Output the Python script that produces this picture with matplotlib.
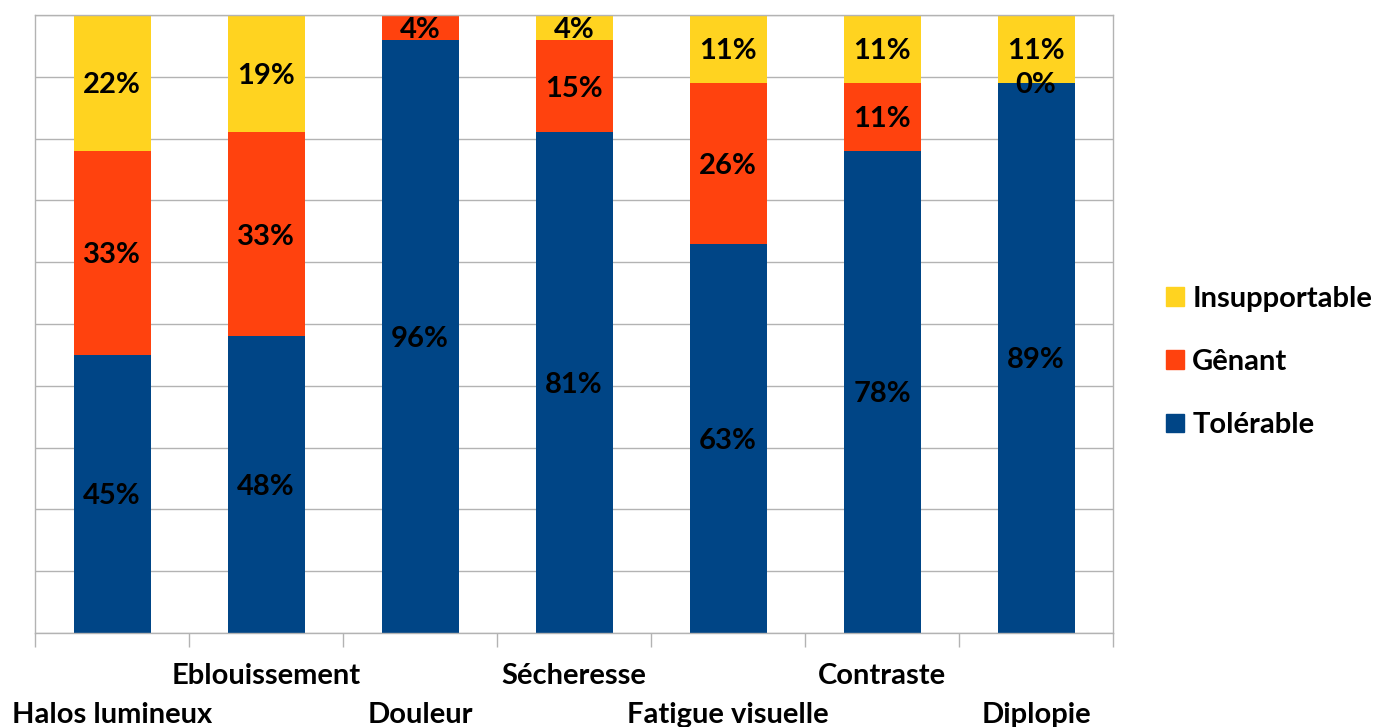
import numpy as np
import matplotlib
matplotlib.use("Agg")
from matplotlib import pyplot as plt
from matplotlib.patches import Patch

plt.rcParams['font.family'] = ['Lato', 'DejaVu Sans']
plt.rcParams['font.weight'] = 'bold'

categories = ['Halos lumineux', 'Eblouissement', 'Douleur', 'Sécheresse',
              'Fatigue visuelle', 'Contraste', 'Diplopie']
tolerable = [45, 48, 96, 81, 63, 78, 89]
genant = [33, 33, 4, 15, 26, 11, 0]
insupportable = [22, 19, 0, 4, 11, 11, 11]

c_tol = '#004586'
c_gen = '#ff420e'
c_ins = '#ffd320'
grid_c = '#b3b3b3'
fs = 21

fig = plt.figure(figsize=(13.96, 7.27), dpi=100)
ax = fig.add_axes([35/1396, 1 - 633/727, (1113-35)/1396, (633-15)/727])

x = np.arange(len(categories))
t = np.array(tolerable) / 100
g = np.array(genant) / 100
s = np.array(insupportable) / 100

ax.bar(x, t, width=0.5, color=c_tol, zorder=2)
ax.bar(x, g, width=0.5, bottom=t, color=c_gen, zorder=2)
ax.bar(x, s, width=0.5, bottom=t + g, color=c_ins, zorder=2)

# percentage labels centred in each segment
for i in range(len(categories)):
    ax.text(x[i], t[i] / 2, f'{tolerable[i]}%', ha='center', va='center_baseline',
            fontsize=fs, fontweight='bold', zorder=3)
    if genant[i] > 0 or insupportable[i] > 0:
        ax.text(x[i], t[i] + g[i] / 2, f'{genant[i]}%', ha='center',
                va='center_baseline', fontsize=fs, fontweight='bold', zorder=3)
    if insupportable[i] > 0:
        ax.text(x[i], t[i] + g[i] + s[i] / 2, f'{insupportable[i]}%', ha='center',
                va='center_baseline', fontsize=fs, fontweight='bold', zorder=3)

ax.set_xlim(-0.5, len(categories) - 0.5)
ax.set_ylim(0, 1)
ax.set_yticks(np.arange(0, 1.01, 0.1))
ax.set_yticklabels([])
ax.tick_params(axis='y', length=0)
ax.yaxis.grid(True, color=grid_c, linewidth=1, zorder=0)

ax.set_xticks(x)
ax.set_xticklabels(categories, fontsize=fs, fontweight='bold')
ax.set_xticks(np.arange(-0.5, len(categories)), minor=True)
ax.tick_params(axis='x', which='major', length=0)
ax.tick_params(axis='x', which='minor', length=10, color=grid_c, width=1)
# staggered category labels
for i, tick in enumerate(ax.xaxis.get_major_ticks()):
    tick.set_pad(21.5 if i % 2 else 49.5)

for sp in ax.spines.values():
    sp.set_color(grid_c)
    sp.set_linewidth(1)

handles = [Patch(color=c_ins, label='Insupportable'),
           Patch(color=c_gen, label='Gênant'),
           Patch(color=c_tol, label='Tolérable')]
fig.legend(handles=handles, loc='center left', bbox_to_anchor=(1166/1396, 1 - 362/727),
           frameon=False, handlelength=0.6, handleheight=0.6,
           handletextpad=0.3, labelspacing=1.28, borderaxespad=0, borderpad=0,
           prop={'weight': 'bold', 'size': fs})

fig.savefig('out.png', dpi=100)
